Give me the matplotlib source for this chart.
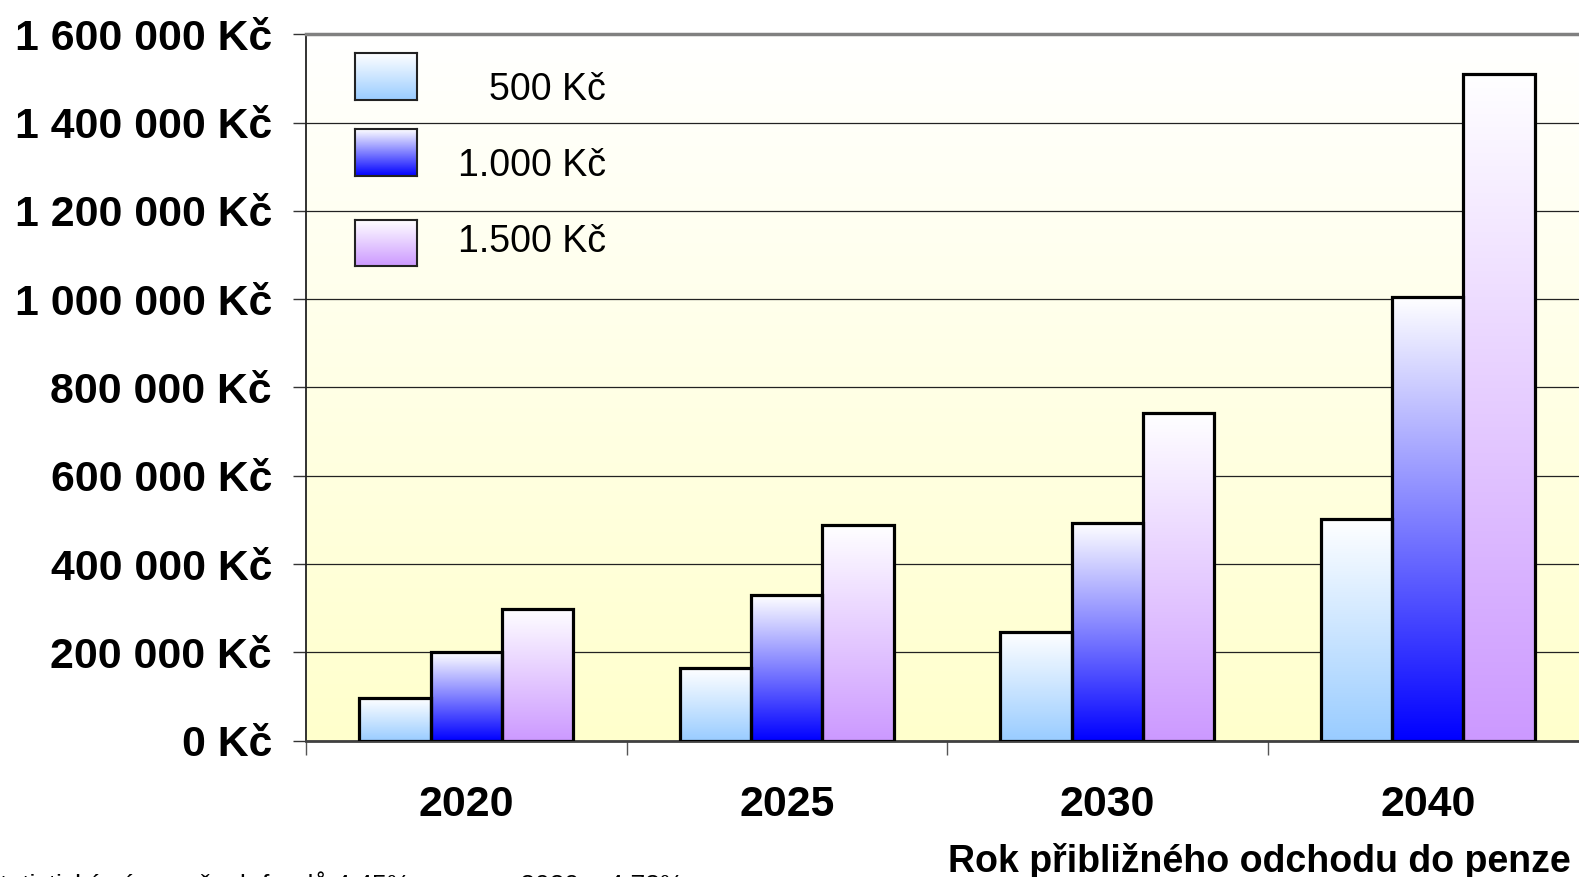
import numpy as np
import matplotlib
matplotlib.use('Agg')
from matplotlib import pyplot as plt
from matplotlib.colors import LinearSegmentedColormap
from matplotlib.patches import Rectangle
from matplotlib.ticker import FuncFormatter, MultipleLocator

plt.rcParams['font.family'] = ['Liberation Sans', 'DejaVu Sans']

years = ['2020', '2025', '2030', '2040']
series = ['500 Kč', '1.000 Kč', '1.500 Kč']
v500 = [97000, 164000, 247000, 503000]
v1000 = [200000, 330000, 494000, 1006000]
v1500 = [299000, 489000, 743000, 1510000]
values = [v500, v1000, v1500]
bottom_colors = ['#99CCFF', '#0000FF', '#CC99FF']

W, H = 1579, 877


def px(x, y):
    # pixel position (from top left) -> figure fraction
    return x / W, 1 - y / H


def gradient_cmap(color):
    return LinearSegmentedColormap.from_list('g', [color, '#FFFFFF'])


grad = np.linspace(0, 1, 256).reshape(-1, 1)

fig = plt.figure(figsize=(W / 100, H / 100), dpi=100)
left, top = 306, 34.3
right, base = 1588, 740.7
ax = fig.add_axes([left / W, 1 - base / H, (right - left) / W, (base - top) / H])

ymax = 1600000
# plot area background: white at the top fading to pale yellow
ax.imshow(grad[::-1], extent=[0, 4, 0, ymax], aspect='auto', origin='lower',
          cmap=LinearSegmentedColormap.from_list('bg', ['#FFFFFF', '#FFFFCC']),
          zorder=0)

bw = 0.223
for s, vals in enumerate(values):
    cmap = gradient_cmap(bottom_colors[s])
    for i, v in enumerate(vals):
        x0 = i + 0.5 + (s - 1.5) * bw
        ax.imshow(grad, extent=[x0, x0 + bw, 0, v], aspect='auto',
                  origin='lower', cmap=cmap, zorder=2)
        ax.add_patch(Rectangle((x0, 0), bw, v, facecolor='none',
                               edgecolor='black', lw=2.3, zorder=3))

ax.set_xlim(0, 4)
ax.set_ylim(0, ymax)

ax.set_yticks(np.arange(0, ymax + 1, 200000))
ax.yaxis.set_major_formatter(FuncFormatter(
    lambda v, p: '{:,.0f} Kč'.format(v).replace(',', ' ')))
ax.set_axisbelow(True)
ax.yaxis.grid(True, color='#222222', lw=0.9)
ax.tick_params(axis='y', length=9.5, width=1, color='#333333', pad=15,
               labelsize=30.8)
for t in ax.get_yticklabels():
    t.set_fontweight('bold')

ax.xaxis.set_major_locator(MultipleLocator(1))
ax.xaxis.set_major_formatter(FuncFormatter(lambda v, p: ''))
ax.set_xticks(np.arange(4) + 0.5, minor=True)
ax.set_xticklabels(years, minor=True, fontsize=30.8, fontweight='bold')
ax.tick_params(axis='x', which='major', length=10, width=1, color='#555555')
ax.tick_params(axis='x', which='minor', length=0, pad=32)

ax.spines['top'].set_color('#808080')
ax.spines['top'].set_linewidth(2.5)
ax.spines['right'].set_visible(False)
ax.spines['left'].set_color('#222222')
ax.spines['left'].set_linewidth(1.3)
ax.spines['bottom'].set_color('#404040')
ax.spines['bottom'].set_linewidth(2)

# legend keys with the same gradients as the bars
keys = [(355, 53, 417, 100), (355, 129, 417, 176), (355, 220, 417, 266)]
baselines = [100, 175.7, 251.7]
for s, (x0, y0, x1, y1) in enumerate(keys):
    fx, fy = px(x0, y1)
    kax = fig.add_axes([fx, fy, (x1 - x0) / W, (y1 - y0) / H])
    kax.imshow(grad, aspect='auto', origin='lower',
               cmap=gradient_cmap(bottom_colors[s]))
    kax.set_xticks([])
    kax.set_yticks([])
    for sp in kax.spines.values():
        sp.set_color('#222222')
        sp.set_linewidth(1.5)
    tx, ty = px(606, baselines[s])
    fig.text(tx, ty, series[s], ha='right', va='baseline', fontsize=27)

tx, ty = px(1571, 872)
fig.text(tx, ty, 'Rok přibližného odchodu do penze', ha='right',
         va='baseline', fontsize=27, fontweight='bold')

# footnote sits mostly below the bottom edge of the figure
tx, ty = px(683, 893)
fig.text(tx, ty, 'Průměrný statistický výnos všech fondů 4,45%, po roce 2020 – 4,73%',
         ha='right', va='baseline', fontsize=19)

plt.savefig('out.png', dpi=100)
